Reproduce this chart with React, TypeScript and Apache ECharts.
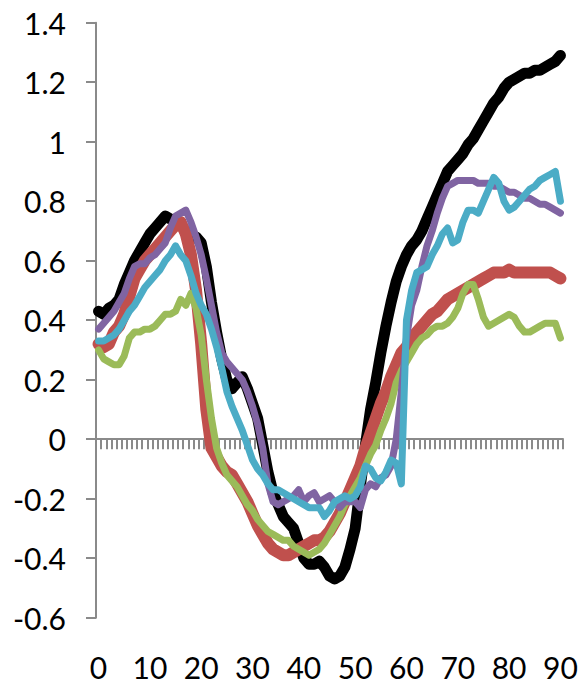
import React, { useEffect, useRef } from "react";
import * as echarts from "echarts";

const categories: string[] = Array.from({ length: 91 }, (_, i) => String(i));

const blackSeries = [
  0.43, 0.42, 0.44, 0.45, 0.47, 0.52, 0.56, 0.60, 0.63, 0.66,
  0.69, 0.71, 0.73, 0.75, 0.74, 0.73, 0.72, 0.70, 0.68, 0.68,
  0.66, 0.58, 0.46, 0.36, 0.27, 0.20, 0.17, 0.19, 0.21, 0.17,
  0.12, 0.07, -0.02, -0.11, -0.18, -0.22, -0.26, -0.28, -0.30, -0.35,
  -0.40, -0.42, -0.42, -0.41, -0.43, -0.46, -0.47, -0.46, -0.43, -0.37,
  -0.30, -0.16, -0.02, 0.10, 0.19, 0.29, 0.38, 0.46, 0.53, 0.58,
  0.62, 0.65, 0.67, 0.70, 0.74, 0.78, 0.82, 0.86, 0.90, 0.92,
  0.94, 0.96, 0.99, 1.01, 1.04, 1.07, 1.10, 1.13, 1.15, 1.18,
  1.20, 1.21, 1.22, 1.23, 1.23, 1.24, 1.24, 1.25, 1.26, 1.27,
  1.29,
];

const redSeries = [
  0.32, 0.31, 0.32, 0.36, 0.38, 0.42, 0.48, 0.54, 0.57, 0.60,
  0.62, 0.64, 0.66, 0.68, 0.70, 0.72, 0.73, 0.69, 0.62, 0.50,
  0.32, 0.10, -0.03, -0.06, -0.09, -0.11, -0.12, -0.15, -0.18, -0.21,
  -0.25, -0.29, -0.32, -0.35, -0.37, -0.38, -0.39, -0.39, -0.38, -0.37,
  -0.36, -0.35, -0.34, -0.34, -0.33, -0.31, -0.28, -0.25, -0.21, -0.17,
  -0.13, -0.09, -0.03, 0.02, 0.07, 0.12, 0.16, 0.21, 0.25, 0.29,
  0.31, 0.34, 0.36, 0.38, 0.40, 0.42, 0.43, 0.45, 0.47, 0.48,
  0.49, 0.50, 0.51, 0.52, 0.53, 0.54, 0.55, 0.56, 0.56, 0.56,
  0.57, 0.56, 0.56, 0.56, 0.56, 0.56, 0.56, 0.56, 0.56, 0.55,
  0.54,
];

const greenSeries = [
  0.30, 0.27, 0.26, 0.25, 0.25, 0.28, 0.34, 0.36, 0.36, 0.37,
  0.37, 0.38, 0.40, 0.42, 0.42, 0.43, 0.47, 0.45, 0.49, 0.44,
  0.35, 0.20, 0.07, -0.03, -0.08, -0.12, -0.14, -0.16, -0.19, -0.22,
  -0.24, -0.27, -0.29, -0.31, -0.32, -0.33, -0.34, -0.34, -0.36, -0.37,
  -0.38, -0.39, -0.38, -0.37, -0.35, -0.32, -0.29, -0.26, -0.22, -0.19,
  -0.16, -0.13, -0.09, -0.05, -0.02, 0.03, 0.07, 0.12, 0.19, 0.23,
  0.26, 0.29, 0.32, 0.34, 0.35, 0.37, 0.38, 0.38, 0.39, 0.41,
  0.44, 0.49, 0.52, 0.52, 0.47, 0.41, 0.38, 0.39, 0.40, 0.41,
  0.42, 0.41, 0.38, 0.36, 0.36, 0.37, 0.38, 0.39, 0.39, 0.39,
  0.34,
];

const purpleSeries = [
  0.37, 0.39, 0.41, 0.43, 0.46, 0.49, 0.54, 0.58, 0.59, 0.59,
  0.61, 0.62, 0.64, 0.66, 0.71, 0.75, 0.76, 0.77, 0.73, 0.68,
  0.62, 0.54, 0.45, 0.36, 0.29, 0.26, 0.24, 0.22, 0.20, 0.16,
  0.11, 0.05, -0.03, -0.15, -0.21, -0.22, -0.21, -0.20, -0.19, -0.17,
  -0.21, -0.19, -0.18, -0.21, -0.20, -0.19, -0.21, -0.23, -0.21, -0.21,
  -0.21, -0.23, -0.17, -0.15, -0.16, -0.13, -0.12, -0.09, 0.00, 0.16,
  0.34, 0.45, 0.50, 0.58, 0.65, 0.70, 0.76, 0.81, 0.85, 0.86,
  0.87, 0.87, 0.87, 0.87, 0.86, 0.86, 0.86, 0.85, 0.85, 0.84,
  0.83, 0.83, 0.82, 0.81, 0.81, 0.80, 0.79, 0.79, 0.78, 0.77,
  0.76,
];

const cyanSeries = [
  0.33, 0.33, 0.34, 0.35, 0.37, 0.40, 0.43, 0.45, 0.48, 0.51,
  0.53, 0.55, 0.57, 0.60, 0.62, 0.65, 0.62, 0.60, 0.55, 0.49,
  0.45, 0.42, 0.37, 0.31, 0.24, 0.16, 0.11, 0.07, 0.03, -0.02,
  -0.07, -0.10, -0.12, -0.15, -0.17, -0.17, -0.18, -0.19, -0.20, -0.21,
  -0.22, -0.23, -0.23, -0.23, -0.26, -0.24, -0.21, -0.20, -0.19, -0.20,
  -0.19, -0.16, -0.09, -0.10, -0.13, -0.14, -0.11, -0.07, -0.08, -0.15,
  0.40, 0.50, 0.56, 0.57, 0.58, 0.62, 0.65, 0.69, 0.71, 0.66,
  0.67, 0.73, 0.77, 0.77, 0.76, 0.80, 0.84, 0.88, 0.86, 0.80,
  0.77, 0.78, 0.80, 0.82, 0.84, 0.85, 0.87, 0.88, 0.89, 0.90,
  0.80,
];

const yMin = -0.6;
const yMax = 1.4;
const yStep = 0.2;

const AXIS_GRAY = "#8a8a8a";
const FONT = "Lato, 'Open Sans', sans-serif";

export default function App() {
  const ref = useRef<HTMLDivElement>(null);

  useEffect(() => {
    document.body.style.margin = "0";
    if (!ref.current) return;
    const chart = echarts.init(ref.current, null, { renderer: "svg" });

    const mk = (name: string, data: number[], color: string, width: number) => ({
      name,
      type: "line",
      data,
      xAxisIndex: 0,
      yAxisIndex: 0,
      showSymbol: false,
      symbol: "none",
      smooth: false,
      lineStyle: { color, width, cap: "round", join: "round" },
      itemStyle: { color },
      emphasis: { disabled: true },
    });

    chart.setOption({
      animation: false,
      backgroundColor: "#ffffff",
      grid: { left: 96, right: 18, top: 22.7, bottom: 66.3, containLabel: false },
      xAxis: [
        {
          type: "category",
          data: categories,
          position: "bottom",
          boundaryGap: true,
          axisLine: { show: true, onZero: true, lineStyle: { color: AXIS_GRAY, width: 2 } },
          axisTick: { show: true, interval: 0, length: 10, lineStyle: { color: AXIS_GRAY, width: 2 } },
          axisLabel: { show: false },
          splitLine: { show: false },
        },
        {
          type: "category",
          data: categories,
          position: "bottom",
          boundaryGap: true,
          axisLine: { show: false, onZero: false },
          axisTick: { show: false },
          axisLabel: {
            show: true,
            interval: 9,
            margin: 34,
            fontSize: 30,
            lineHeight: 30,
            fontFamily: FONT,
            color: "#000000",
          },
          splitLine: { show: false },
        },
      ],
      yAxis: {
        type: "value",
        min: yMin,
        max: yMax,
        interval: yStep,
        axisLine: { show: true, lineStyle: { color: AXIS_GRAY, width: 2 } },
        axisTick: { show: true, length: 10, lineStyle: { color: AXIS_GRAY, width: 2 } },
        axisLabel: {
          margin: 30,
          fontSize: 30,
          fontFamily: FONT,
          color: "#000000",
          formatter: (v: number) => String(Number(v.toFixed(1))),
        },
        splitLine: { show: false },
      },
      series: [
        mk("S1", blackSeries, "#000000", 11),
        mk("S2", redSeries, "#C0504D", 12),
        mk("S3", greenSeries, "#9BBB59", 7),
        mk("S4", purpleSeries, "#8064A2", 7),
        mk("S5", cyanSeries, "#4BACC6", 7),
      ],
    });

    return () => chart.dispose();
  }, []);

  return <div ref={ref} style={{ width: 581, height: 684 }} />;
}
